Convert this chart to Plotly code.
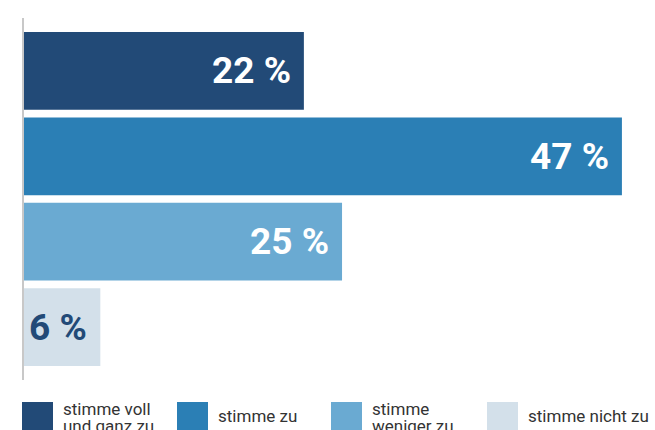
import plotly.graph_objects as go

categories = ["stimme voll<br>und ganz zu", "stimme zu", "stimme<br>weniger zu", "stimme nicht zu"]
values = [22, 47, 25, 6]
labels = ["22 %", "47 %", "25 %", "6 %"]
colors = ["#224a77", "#2b7fb5", "#6aaad2", "#d3e0ea"]
label_colors = ["#ffffff", "#ffffff", "#ffffff", "#224a77"]

W, H = 655, 430
ml, mr, mt, mb = 24, 0, 18, 50
ph = H - mt - mb

fig = go.Figure()
fig.add_trace(go.Bar(
    y=list(range(len(values))), x=values, orientation="h",
    marker=dict(color=colors, line=dict(width=0)),
    hoverinfo="skip", showlegend=False,
))

for i, (v, t, c) in enumerate(zip(values, labels, label_colors)):
    fig.add_annotation(x=v, y=i, xref="x", yref="y", text="<b>" + t + "</b>",
                       showarrow=False, xanchor="right", yanchor="middle", xshift=-11,
                       font=dict(family="Roboto", size=37, color=c))

def py(px):
    return (H - mb - px) / ph

def pxx(px):
    return (px - ml) / (W - ml - mr)

sq_x = [22, 177, 331, 487]
for i, cat in enumerate(categories):
    x0 = sq_x[i]
    fig.add_shape(type="rect", xref="paper", yref="paper",
                  x0=pxx(x0), x1=pxx(x0 + 31), y0=py(402), y1=py(440),
                  fillcolor=colors[i], line=dict(width=0), layer="above")
    lines = cat.split("<br>")
    centers = [409, 426] if len(lines) == 2 else [416]
    for ln, cy in zip(lines, centers):
        fig.add_annotation(xref="paper", yref="paper", x=pxx(x0 + 39), y=py(cy),
                           text=ln, showarrow=False, xanchor="left", yanchor="middle",
                           font=dict(family="Roboto", size=17, color="#333333"))

fig.update_layout(
    width=W, height=H, margin=dict(l=ml, r=mr, t=mt, b=mb),
    paper_bgcolor="white", plot_bgcolor="white",
    bargap=0.09,
    xaxis=dict(range=[0, 49.6], visible=False, fixedrange=True),
    yaxis=dict(range=[3.62, -0.62], showticklabels=False, showgrid=False, zeroline=False,
               showline=True, linecolor="#c8c8c8", linewidth=2, ticks="", fixedrange=True),
    showlegend=False,
)
fig.write_html("out.html", config={"displayModeBar": False},
               post_script="document.body.style.margin='0';document.body.style.overflow='hidden';")
